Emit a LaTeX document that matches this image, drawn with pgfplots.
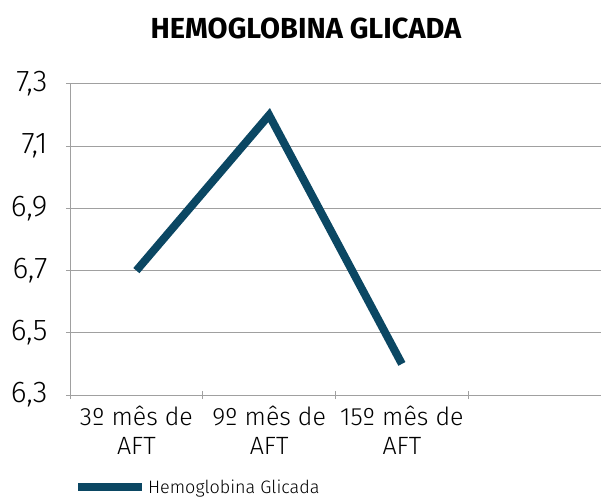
\documentclass[border=0pt]{standalone}
\usepackage{fontspec}
\setmainfont{Fira Sans}
\newfontfamily\lightfont{Fira Sans Light}
\usepackage{pgfplots}
\pgfplotsset{compat=1.18}
\definecolor{lineblue}{HTML}{0B4763}
\definecolor{gridgray}{HTML}{A0A0A0}
\begin{document}
\begin{tikzpicture}
\begin{axis}[
  scale only axis,
  width=531pt, height=311pt,
  xmin=-0.5, xmax=3.5,
  ymin=6.3, ymax=7.3,
  ytick={6.3,6.5,6.7,6.9,7.1,7.3},
  xtick={0,1,2},
  xticklabels={{3º mês de\\AFT},{9º mês de\\AFT},{15º mês de\\AFT}},
  minor xtick={-0.5,0.5,1.5,2.5},
  major x tick style={draw=none},
  minor x tick style={draw=gridgray, line width=1pt},
  minor tick length=8pt,
  y tick style={draw=gridgray, line width=1pt},
  major tick length=8pt,
  tick align=outside,
  axis lines=left,
  axis line style={draw=gridgray, line width=1pt, -},
  ymajorgrids,
  major grid style={draw=gridgray, line width=1pt},
  xticklabel style={font=\lightfont\fontsize{25}{29.5}\selectfont, align=center, yshift=-3pt},
  yticklabel style={font=\lightfont\fontsize{30}{32}\selectfont, xshift=-15pt},
  /pgf/number format/.cd, use comma, fixed, fixed zerofill, precision=1, assume math mode=true,
  /pgfplots/.cd,
  title={HEMOGLOBINA GLICADA},
  title style={font=\bfseries\fontsize{29}{32}\selectfont, at={(axis description cs:0.4444,1.160)}, anchor=center},
  legend style={draw=none, fill=none, inner sep=0pt, at={(axis description cs:0.0075,-0.296)}, anchor=west, font=\lightfont\fontsize{18}{20}\selectfont},
  legend image code/.code={\draw[#1, line width=8pt] (0pt,0pt) -- (64pt,0pt);},
  clip=false,
]
\addplot[lineblue, line width=8pt, line join=miter] coordinates {(0,6.7) (1,7.2) (2,6.4)};
\addlegendentry{Hemoglobina Glicada}
\end{axis}
\pgfresetboundingbox
\path (-70pt,-103pt) rectangle (531pt,395pt);
\end{tikzpicture}
\end{document}
